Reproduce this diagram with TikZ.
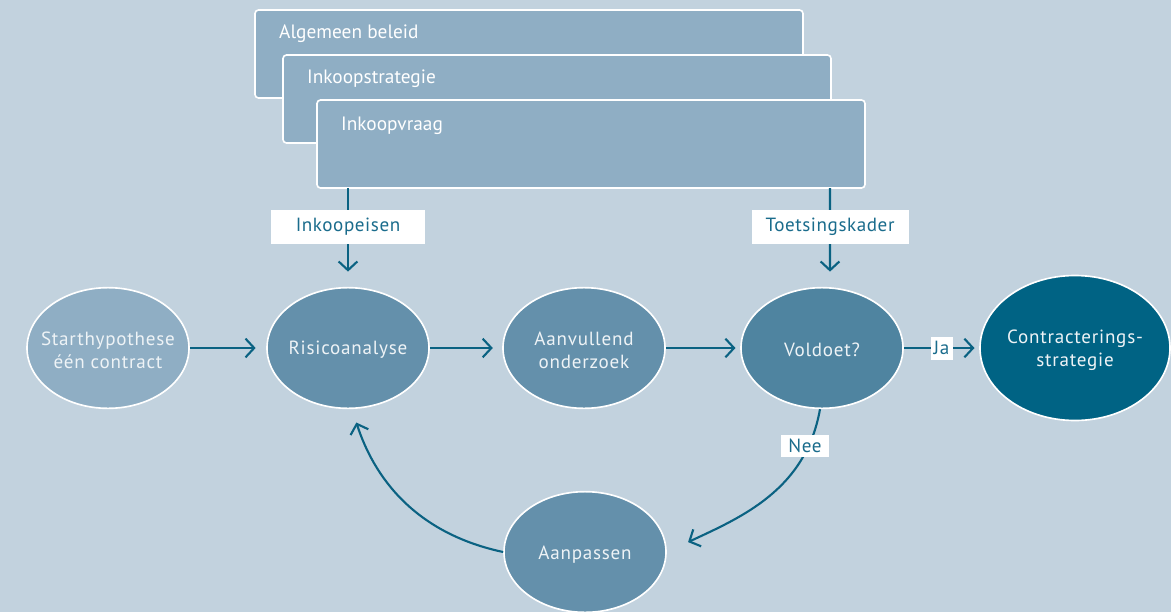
\documentclass[tikz,border=0pt]{standalone}
\usepackage{fontspec}
\setmainfont{PT Sans}
\usetikzlibrary{shapes.geometric,arrows.meta}
\definecolor{bgc}{HTML}{C2D2DE}
\definecolor{boxc}{HTML}{8FAEC4}
\definecolor{midc}{HTML}{6490AB}
\definecolor{volc}{HTML}{4F84A0}
\definecolor{conc}{HTML}{006384}
\definecolor{arrc}{HTML}{0A6282}
\definecolor{lblc}{HTML}{1A6C8C}
\definecolor{txtc}{HTML}{EEF3F6}
\tikzset{
  layer/.style={draw=white, line width=1.4pt, fill=boxc, rounded corners=3pt},
  layertxt/.style={anchor=west, text=white, font=\fontsize{16.5}{19}\selectfont, inner sep=0pt},
  oval/.style={ellipse, draw=white, line width=1.4pt, minimum width=4.86cm, minimum height=3.62cm, inner sep=0pt},
  ovaltxt/.style={align=center, text=txtc, inner sep=0pt, yshift=-1.6pt, font=\fontsize{16.3}{19.6}\selectfont\addfontfeature{LetterSpace=4}},
  conn/.style={draw=arrc, line width=1.8pt, -{Straight Barb[length=2.6mm, width=5.6mm, line width=1.8pt]}},
  lbl/.style={fill=white, text=lblc, inner sep=0pt, font=\fontsize{16.3}{19}\selectfont\addfontfeature{LetterSpace=3}}
}
\begin{document}
\begin{tikzpicture}[x=0.03cm,y=-0.03cm]
\path[fill=bgc, use as bounding box] (0,0) rectangle (1171,612);
% stacked boxes
\draw[layer] (255,10) rectangle (803,98);
\node[layertxt] (t1) at (279,34) {Algemeen beleid};
\draw[layer] (283,55) rectangle (831,143);
\node[layertxt] (t2) at (307,79) {Inkoopstrategie};
\draw[layer] (317,100) rectangle (865,188);
\node[layertxt] (t3) at (341,126) {Inkoopvraag};
\coordinate (b3l) at (348,188);
\coordinate (b3r) at (830,188);
% ellipses
\node[oval, fill=boxc, label={[ovaltxt]center:{Starthypothese\\één contract}}] (start) at (108,348) {};
\node[oval, fill=midc, label={[ovaltxt]center:{Risicoanalyse}}] (ris) at (348,348) {};
\node[oval, fill=midc, label={[ovaltxt]center:{Aanvullend\\onderzoek}}] (aanv) at (584,348) {};
\node[oval, fill=volc, label={[ovaltxt]center:{Voldoet?}}] (vol) at (822,348) {};
\node[oval, fill=conc, minimum width=5.7cm, minimum height=4.35cm, label={[ovaltxt]center:{Contracterings-\\strategie}}] (con) at (1075,348) {};
\node[oval, fill=midc, label={[ovaltxt, yshift=-1pt]center:{Aanpassen}}] (aanp) at (585,552) {};
% connectors
\draw[conn, shorten >=9pt] (start) -- (ris);
\draw[conn, shorten >=8pt] (ris) -- (aanv);
\draw[conn, shorten >=4pt] (aanv) -- (vol);
\draw[conn, shorten >=4pt] (vol) -- node[lbl, minimum width=0.66cm, minimum height=0.69cm] (ja) {Ja} (con);
\draw[conn, shorten >=13pt] (b3l) -- (ris.north) node[lbl, pos=0.39, minimum width=4.62cm, minimum height=1.02cm] (ie) {Inkoopeisen};
\coordinate (volt) at ([xshift=0.24cm]vol.north);
\draw[conn, shorten >=13pt] (b3r) -- (volt) node[lbl, pos=0.39, minimum width=4.71cm, minimum height=1.02cm] (tk) {Toetsingskader};
\draw[conn, shorten >=20pt] ([xshift=-0.06cm]vol.south) to[out=-100, in=25] (aanp.east);
\draw[conn, shorten >=12pt] (aanp.west) to[out=168, in=-72] ([xshift=0.12cm]ris.south);
\node[lbl, minimum width=1.44cm, minimum height=0.66cm] (nee) at (805,446) {Nee};
\end{tikzpicture}
\end{document}
